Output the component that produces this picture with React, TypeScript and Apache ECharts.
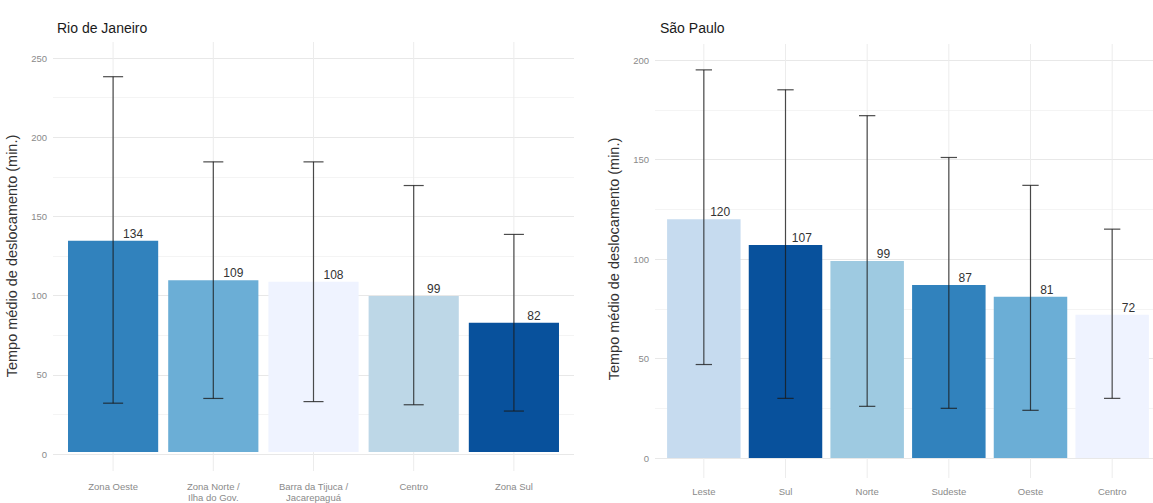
import React, { useEffect, useRef } from "react";
import * as echarts from "echarts";

const rioCategories = ["Zona Oeste", "Zona Norte /\nIlha do Gov.", "Barra da Tijuca /\nJacarepaguá", "Centro", "Zona Sul"];
const rioMeans = [134, 109, 108, 99, 82];
const rioLow = [31, 34, 32, 30, 26];
const rioHigh = [238, 184, 184, 169, 138];
const rioColors = ["#3182BD", "#6BAED6", "#EFF3FF", "#BDD7E7", "#08519C"];

const spCategories = ["Leste", "Sul", "Norte", "Sudeste", "Oeste", "Centro"];
const spMeans = [120, 107, 99, 87, 81, 72];
const spLow = [47, 30, 26, 25, 24, 30];
const spHigh = [195, 185, 172, 151, 137, 115];
const spColors = ["#C6DBEF", "#08519C", "#9ECAE1", "#3182BD", "#6BAED6", "#EFF3FF"];

const rioTicks = { min: 0, max: 250, interval: 50 };
const spTicks = { min: 0, max: 200, interval: 50 };

const FONT = "'Liberation Sans', Arial, sans-serif";
const yTitle = "Tempo médio de deslocamento (min.)";

function panel(
  gA: number,
  gC: number,
  cats: string[],
  means: number[],
  lows: number[],
  highs: number[],
  colors: string[],
  ticks: { min: number; max: number; interval: number },
  cMin: number,
  cMax: number,
  labelMargin: number
) {
  const xAxes: any[] = [
    { gridIndex: gA, type: "value", show: false, min: 0, max: 1 },
    {
      gridIndex: gC,
      type: "category",
      data: cats,
      axisLine: { show: false },
      axisTick: { show: false },
      splitLine: { show: false },
      axisLabel: {
        margin: labelMargin,
        fontSize: 9.5,
        lineHeight: 11,
        color: "#8a8a8a",
        fontFamily: FONT,
        interval: 0,
      },
    },
  ];
  const yAxes: any[] = [
    {
      gridIndex: gA,
      type: "value",
      min: ticks.min,
      max: ticks.max,
      interval: ticks.interval,
      name: yTitle,
      nameLocation: "middle",
      nameGap: 34,
      nameRotate: 90,
      nameTextStyle: { fontSize: 14.5, color: "#333", fontFamily: FONT },
      axisLine: { show: false },
      axisTick: { show: false },
      axisLabel: { margin: 6, fontSize: 9.5, color: "#8a8a8a", fontFamily: FONT },
      splitLine: { show: true, lineStyle: { color: "#e8e8e8", width: 1 } },
      minorTick: { show: false, splitNumber: 2 },
      minorSplitLine: { show: true, lineStyle: { color: "#f4f4f4", width: 1 } },
    },
    {
      gridIndex: gC,
      type: "value",
      min: cMin,
      max: cMax,
      show: false,
      splitLine: { show: false },
    },
  ];
  const idx = cats.map((_, i) => i);
  const series: any[] = [
    {
      type: "custom",
      xAxisIndex: gC,
      yAxisIndex: gC,
      z: 1,
      silent: true,
      data: idx.map((i) => [i]),
      renderItem: (params: any, api: any) => {
        const x = api.value(0);
        const p1 = api.coord([x, cMin]);
        const p2 = api.coord([x, cMax]);
        return {
          type: "line",
          shape: { x1: p1[0], y1: p1[1], x2: p2[0], y2: p2[1] },
          style: { stroke: "#ececec", lineWidth: 1 },
        };
      },
    },
    {
      type: "bar",
      xAxisIndex: gC,
      yAxisIndex: gC,
      z: 2,
      barWidth: "90%",
      data: means.map((v, i) => ({ value: v, itemStyle: { color: colors[i] } })),
    },
    {
      type: "custom",
      xAxisIndex: gC,
      yAxisIndex: gC,
      z: 3,
      data: idx.map((i) => [i, lows[i], highs[i], means[i]]),
      renderItem: (params: any, api: any) => {
        const x = api.value(0);
        const pl = api.coord([x, api.value(1)]);
        const ph = api.coord([x, api.value(2)]);
        const pm = api.coord([x, api.value(3)]);
        const band = api.size([1, 0])[0];
        const hw = band * 0.1;
        const st = { stroke: "rgba(25,25,25,0.78)", lineWidth: 1.2 };
        return {
          type: "group",
          children: [
            { type: "line", shape: { x1: pl[0], y1: pl[1], x2: ph[0], y2: ph[1] }, style: st },
            { type: "line", shape: { x1: ph[0] - hw, y1: ph[1], x2: ph[0] + hw, y2: ph[1] }, style: st },
            { type: "line", shape: { x1: pl[0] - hw, y1: pl[1], x2: pl[0] + hw, y2: pl[1] }, style: st },
            {
              type: "text",
              x: pm[0] + band * 0.2,
              y: pm[1] - 1,
              style: {
                text: String(api.value(3)),
                fill: "#333",
                fontSize: 12,
                fontFamily: FONT,
                align: "center",
                verticalAlign: "bottom",
              },
            },
          ],
        };
      },
    },
  ];
  return { xAxes, yAxes, series };
}

export default function App() {
  const ref = useRef<HTMLDivElement>(null);
  useEffect(() => {
    if (!ref.current) return;
    const chart = echarts.init(ref.current, undefined, { renderer: "svg" });
    const rio = panel(0, 1, rioCategories, rioMeans, rioLow, rioHigh, rioColors, rioTicks, -12, 260, 10);
    const sp = panel(2, 3, spCategories, spMeans, spLow, spHigh, spColors, spTicks, -10, 208, 8);
    chart.setOption({
      animation: false,
      backgroundColor: "#ffffff",
      textStyle: { fontFamily: FONT },
      title: [
        { text: "Rio de Janeiro", left: 52, top: 16, textStyle: { fontSize: 14, fontWeight: "normal", color: "#1a1a1a", fontFamily: FONT } },
        { text: "São Paulo", left: 655, top: 16, textStyle: { fontSize: 14, fontWeight: "normal", color: "#1a1a1a", fontFamily: FONT } },
      ],
      grid: [
        { left: 53, top: 58, width: 521, height: 396 },
        { left: 63, top: 42, width: 501, height: 431 },
        { left: 655, top: 60, width: 515, height: 398 },
        { left: 663, top: 44, width: 498, height: 434 },
      ],
      xAxis: [...rio.xAxes, ...sp.xAxes],
      yAxis: [...rio.yAxes, ...sp.yAxes],
      series: [...rio.series, ...sp.series],
    });
    return () => chart.dispose();
  }, []);
  return (
    <div
      ref={ref}
      style={{ position: "fixed", left: 0, top: 0, width: 1153, height: 503, overflow: "hidden" }}
    />
  );
}
